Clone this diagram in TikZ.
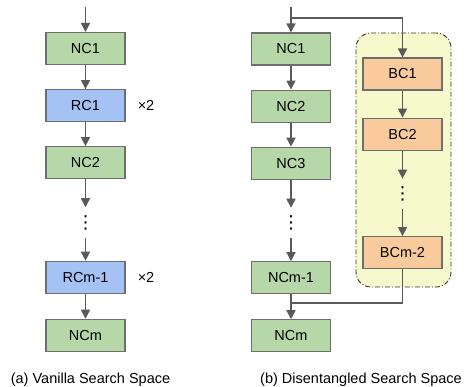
\documentclass[tikz,border=0pt]{standalone}
\usepackage{fontspec}
\setmainfont{Liberation Sans}
\newfontfamily\symfont{DejaVu Sans}
\usetikzlibrary{arrows.meta,positioning,shapes}

\definecolor{ncgreen}{HTML}{B6D7A8}
\definecolor{rcblue}{HTML}{A4C2F4}
\definecolor{bcorange}{HTML}{F9CB9C}
\definecolor{grpyellow}{HTML}{F6F9CB}
\definecolor{edgegray}{HTML}{6E6E6E}
\definecolor{arrowgray}{HTML}{5A5A5A}

\begin{document}
\begin{tikzpicture}[
    x=1pt, y=-1pt,
    node distance=24pt,
    cell/.style={rectangle, draw=edgegray, line width=1.1pt, minimum width=79pt, minimum height=32pt, inner sep=0pt, font=\fontsize{14.5}{16}\selectfont},
    ncell/.style={cell, fill=ncgreen},
    rcell/.style={cell, fill=rcblue},
    bcell/.style={cell, fill=bcorange},
    dotsnode/.style={rectangle, minimum height=30pt, inner sep=0pt, font=\symfont\fontsize{18}{18}\selectfont},
    repeat/.style={inner sep=0pt, font=\fontsize{14.5}{16}\selectfont},
    caption/.style={inner sep=0pt, font=\fontsize{14.5}{16}\selectfont},
    groupbox/.style={rectangle, rounded corners=15pt, draw=black!80, line width=0.9pt, dash pattern=on 5pt off 2pt on 1pt off 2pt, fill=grpyellow},
    arr/.style={-{Triangle[length=9pt,width=9pt]}, line width=1.5pt, draw=arrowgray},
    link/.style={line width=1.5pt, draw=arrowgray}
]
\useasboundingbox (0,0) rectangle (466,387);

% (a) vanilla
\coordinate (ain) at (85.5,7);
\node[ncell] (lnc1) at (85.5,48.5) {NC1};
\node[rcell, below=of lnc1] (lrc1) {RC1};
\node[ncell, below=of lrc1] (lnc2) {NC2};
\node[dotsnode, below=28pt of lnc2] (ldots) {⋮};
\node[rcell, below=23pt of ldots] (lrcm1) {RCm-1};
\node[ncell, below=25pt of lrcm1] (lncm) {NCm};
\node[repeat, right=12pt of lrc1] (rep1) {×2};
\node[repeat, right=12pt of lrcm1] (rep2) {×2};

\draw[arr] (ain) -- (lnc1);
\draw[arr] (lnc1) -- (lrc1);
\draw[arr] (lrc1) -- (lnc2);
\draw[arr] (lnc2) -- (ldots);
\draw[arr] (ldots) -- (lrcm1);
\draw[arr] (lrcm1) -- (lncm);

% (b) disentangled
\node[groupbox, minimum width=95pt, minimum height=254pt] (bgroup) at (403.5,160) {};

\coordinate (bin) at (291,7);
\coordinate (split) at (291,18);
\node[ncell] (rnc1) at (291,49) {NC1};
\node[ncell, below=of rnc1] (rnc2) {NC2};
\node[ncell, below=of rnc2] (rnc3) {NC3};
\node[dotsnode, below=28pt of rnc3] (rdots) {⋮};
\node[ncell, below=23pt of rdots] (rncm1) {NCm-1};
\node[ncell, below=25pt of rncm1] (rncm) {NCm};
\coordinate[below=9pt of rncm1] (merge);

\node[bcell] (bc1) at (402.5,74) {BC1};
\node[bcell, below=27pt of bc1] (bc2) {BC2};
\node[dotsnode, below=28pt of bc2] (bdots) {⋮};
\node[bcell, below=27pt of bdots] (bcm2) {BCm-2};

\draw[arr] (bin) -- (rnc1);
\draw[arr] (split) -| (bc1);
\draw[arr] (rnc1) -- (rnc2);
\draw[arr] (rnc2) -- (rnc3);
\draw[arr] (rnc3) -- (rdots);
\draw[arr] (rdots) -- (rncm1);
\draw[arr] (rncm1) -- (rncm);
\draw[arr] (bc1) -- (bc2);
\draw[arr] (bc2) -- (bdots);
\draw[arr] (bdots) -- (bcm2);
\draw[link] (bcm2) |- (merge);

% captions
\node[caption] (capa) at (90.5,380) {(a) Vanilla Search Space};
\node[caption] (capb) at (361,380) {(b) Disentangled Search Space};

\end{tikzpicture}
\end{document}
